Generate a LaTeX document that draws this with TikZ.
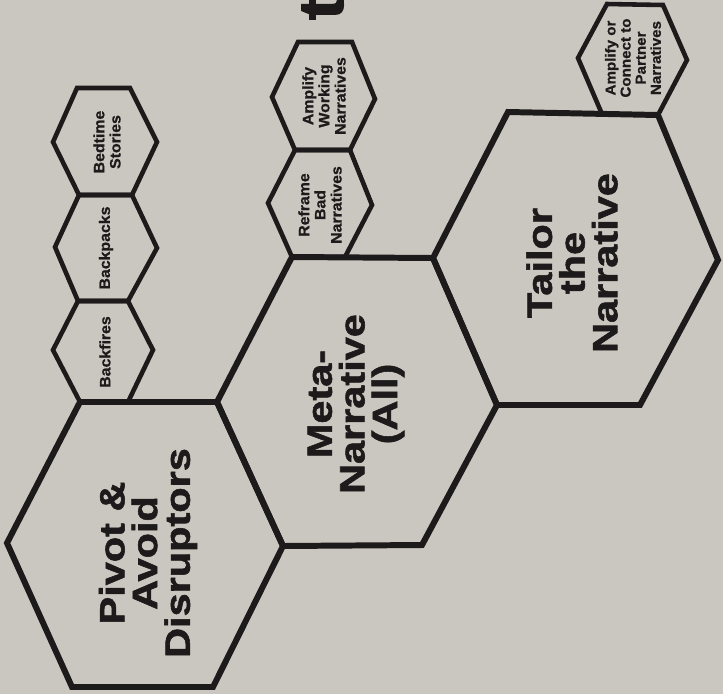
\documentclass[tikz,border=0pt]{standalone}
\usepackage{fontspec}
\setmainfont{Liberation Sans}
\newfontfamily\blackfont{Liberation Sans}[BoldFeatures={FakeBold=1.6, FakeStretch=1.18}]
\newfontfamily\labelfont{Liberation Sans}[BoldFeatures={FakeBold=0.8, FakeStretch=1.05}]
\definecolor{paper}{RGB}{202,199,192}
\definecolor{ink}{RGB}{28,26,26}

\begin{document}
\begin{tikzpicture}[x=0.1mm, y=-0.1mm,
    bighex/.style={draw=ink, line width=1.7pt},
    smallhex/.style={draw=ink, line width=1.3pt},
    bigtext/.style={rotate=90, align=center, text=ink, inner sep=0pt,
        font=\blackfont\bfseries\fontsize{10}{9.3}\selectfont},
    smalltext/.style={rotate=90, align=center, text=ink, inner sep=0pt,
        font=\labelfont\bfseries\fontsize{4.3}{4.6}\selectfont}]

        % Paper
        \fill[paper] (0,0) rectangle (723,694);
        \clip (0,0) rectangle (723,694);

        % Heading letter cut by the page edge
        \node[rotate=90, anchor=base west, inner sep=0pt, text=ink,
            font=\blackfont\bfseries\fontsize{18}{18}\selectfont] (heading) at (343,21) {t};

        % Small hexagons above Pivot
        \draw[smallhex] (53,142) -- (77,88) -- (130,88) -- (157,142) -- (132,195) -- (79,195) -- cycle;
        \node[smalltext] (bedtime) at (107,142) {Bedtime\\Stories};

        \draw[smallhex] (55,247) -- (79,195) -- (132,195) -- (157,248) -- (128,301) -- (78,301) -- cycle;
        \node[smalltext] (backpacks) at (106,248) {Backpacks};

        \draw[smallhex] (53,350) -- (78,301) -- (128,301) -- (153,350) -- (128,402) -- (80,402) -- cycle;
        \node[smalltext] (backfires) at (105,352) {Backfires};

        % Small hexagons above Meta-Narrative
        \draw[smallhex] (272,97) -- (298,42) -- (352,42) -- (375,99) -- (350,150) -- (295,150) -- cycle;
        \node[smalltext] (amplify) at (324,96) {Amplify\\Working\\Narratives};

        \draw[smallhex] (268,203) -- (295,150) -- (350,150) -- (372,205) -- (345,257) -- (292,257) -- cycle;
        \node[smalltext] (reframe) at (320,205) {Reframe\\Bad\\Narratives};

        % Small hexagon above Tailor
        \draw[smallhex] (578,58) -- (607,4) -- (663,5) -- (687,60) -- (658,115) -- (602,114) -- cycle;
        \node[smalltext, font=\labelfont\bfseries\fontsize{4.1}{4.3}\selectfont] (partner) at (633,58)
            {Amplify or\\Connect to\\Partner\\Narratives};

        % Pivot & Avoid Disruptors
        \draw[bighex] (7,543) -- (80,402) -- (217,402) -- (283,546) -- (213,687) -- (72,687) -- cycle;
        \node[bigtext] (pivot) at (148,553) {Pivot \&\\Avoid\\Disruptors};

        % Meta-Narrative (All)
        \draw[bighex] (217,402) -- (292,257) -- (433,258) -- (497,405) -- (422,545) -- (283,546) -- cycle;
        \node[bigtext] (meta) at (356,404) {Meta-\\Narrative\\(All)};

        % Tailor the Narrative
        \draw[bighex] (433,258) -- (508,112) -- (658,115) -- (718,260) -- (640,405) -- (497,405) -- cycle;
        \node[bigtext] (tailor) at (572,263) {Tailor\\the\\Narrative};

\end{tikzpicture}
\end{document}
